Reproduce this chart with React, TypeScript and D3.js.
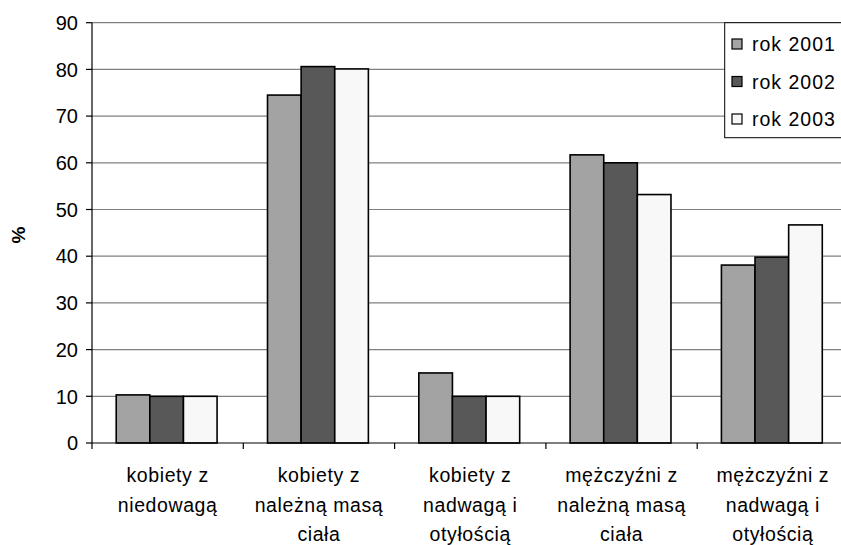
import React from "react";
import * as d3 from "d3";

const categories: string[][] = [
  ["kobiety z", "niedowagą"],
  ["kobiety z", "należną masą", "ciała"],
  ["kobiety z", "nadwagą i", "otyłością"],
  ["mężczyźni z", "należną masą", "ciała"],
  ["mężczyźni z", "nadwagą i", "otyłością"],
];
const seriesNames = ["rok 2001", "rok 2002", "rok 2003"];
const values2001 = [10.3, 74.5, 15.0, 61.7, 38.1];
const values2002 = [10.0, 80.6, 10.0, 60.0, 39.8];
const values2003 = [10.0, 80.1, 10.0, 53.2, 46.7];
const yTicks = [0, 10, 20, 30, 40, 50, 60, 70, 80, 90];
const colors = ["#a3a3a3", "#585858", "#f8f8f8"];

const W = 841;
const H = 545;
const left = 92;
const right = 848.5;
const top = 22.7;
const bottom = 443;
const FONT = "Arial, 'Liberation Sans', sans-serif";

export default function App() {
  const series = [values2001, values2002, values2003];
  const catIdx = categories.map((_, i) => String(i));
  const x = d3.scaleBand<string>().domain(catIdx).range([left, right]).paddingInner(0).paddingOuter(0);
  const bw = x.bandwidth();
  const barW = bw / 4.5;
  const y = d3.scaleLinear().domain([0, 90]).range([bottom, top]);

  return (
    <div style={{ position: "absolute", left: 0, top: 0 }}>
      <svg width={W} height={H} style={{ display: "block", background: "#fff" }} fontFamily={FONT}>
        {yTicks.filter((t) => t > 0).map((t) => (
          <line key={"g" + t} x1={left} x2={W} y1={y(t)} y2={y(t)} stroke="#808080" strokeWidth={1.2} />
        ))}
        {categories.map((_, ci) =>
          series.map((vals, si) => {
            const x0 = (x(String(ci)) as number) + barW * 0.72 + si * barW;
            return (
              <rect
                key={ci + "-" + si}
                x={x0}
                y={y(vals[ci])}
                width={barW}
                height={bottom - y(vals[ci])}
                fill={colors[si]}
                stroke="#000"
                strokeWidth={1.6}
              />
            );
          })
        )}
        <line x1={left} x2={left} y1={top} y2={bottom} stroke="#000" strokeWidth={1.2} />
        <line x1={left} x2={W} y1={bottom} y2={bottom} stroke="#000" strokeWidth={1.2} />
        {yTicks.map((t) => (
          <g key={"t" + t}>
            <line x1={left - 6} x2={left} y1={y(t)} y2={y(t)} stroke="#000" strokeWidth={1.2} />
            <text x={left - 14} y={y(t)} dy="0.36em" textAnchor="end" fontSize={20} fill="#000">
              {t}
            </text>
          </g>
        ))}
        {categories.map((_, ci) => (
          <line
            key={"ct" + ci}
            x1={x(String(ci)) as number}
            x2={x(String(ci)) as number}
            y1={bottom}
            y2={bottom + 6}
            stroke="#000"
            strokeWidth={1.2}
          />
        ))}
        {categories.map((lines, ci) => {
          const cx = (x(String(ci)) as number) + bw / 2;
          return (
            <text key={"cl" + ci} textAnchor="middle" fontSize={19.5} letterSpacing={0.6} fill="#000">
              {lines.map((l, li) => (
                <tspan key={li} x={cx} y={482 + li * 29.5}>
                  {l}
                </tspan>
              ))}
            </text>
          );
        })}
        <text
          transform={`translate(25,235) rotate(-90)`}
          textAnchor="middle"
          fontSize={19}
          fontWeight="bold"
          fill="#000"
        >
          %
        </text>
        <rect x={724.7} y={22.7} width={130} height={115} fill="#fff" stroke="#000" strokeWidth={1} />
        {seriesNames.map((n, i) => {
          const cy = 44 + i * 37.5;
          return (
            <g key={"lg" + i}>
              <rect x={732} y={cy - 5} width={10} height={10} fill={colors[i]} stroke="#000" strokeWidth={1.2} />
              <text x={752} y={cy} dy="0.36em" fontSize={19.5} letterSpacing={1} fill="#000">
                {n}
              </text>
            </g>
          );
        })}
      </svg>
    </div>
  );
}
